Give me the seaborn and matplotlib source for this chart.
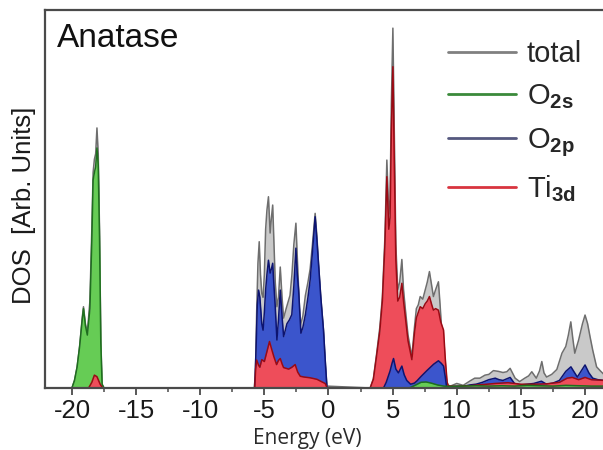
import numpy as np
import matplotlib
matplotlib.use("Agg")
import matplotlib.pyplot as plt
from matplotlib.lines import Line2D
from matplotlib.ticker import MultipleLocator
import seaborn as sns

# ---------------------------------------------------------------
# Projected density of states of anatase TiO2 (arbitrary units)
# ---------------------------------------------------------------
total_energy = [
    -22.1, -20.0, -19.8, -19.6, -19.4, -19.2, -19.1, -18.95, -18.8, -18.6,
    -18.45, -18.35, -18.25, -18.15, -18.05, -17.95, -17.85, -17.75, -17.65, -17.5,
    -5.8, -5.7, -5.6, -5.5, -5.4, -5.3, -5.2, -5.1, -5.0, -4.9,
    -4.8, -4.68, -4.55, -4.45, -4.35, -4.25, -4.15, -4.02, -3.9, -3.76,
    -3.62, -3.5, -3.3, -3.0, -2.85, -2.7, -2.54, -2.4, -2.2, -2.0,
    -1.8, -1.6, -1.43, -1.25, -1.04, -0.9, -0.78, -0.6, -0.39, -0.25, -0.12,
    3.25, 3.5, 3.75, 4.0, 4.2, 4.4, 4.55, 4.7, 4.8, 4.9,
    5.02, 5.12, 5.25, 5.4, 5.55, 5.72, 5.85, 6.0, 6.2, 6.5,
    6.7, 6.85, 7.0, 7.15, 7.35, 7.54, 7.7, 7.87, 8.05, 8.18,
    8.35, 8.57, 8.7, 8.85, 9.0, 9.15, 9.3,
    9.5, 10.0, 10.5, 11.0, 11.4, 11.8, 12.2, 12.5, 12.86, 13.25,
    13.6, 13.9, 14.16, 14.55, 14.9, 15.3, 15.6, 15.85, 16.2, 16.45,
    16.63, 16.8, 17.0, 17.4, 17.8, 18.2, 18.5, 18.7, 18.89, 19.05,
    19.2, 19.5, 19.8, 20.0, 20.2, 20.4, 20.6, 20.9, 21.2, 21.5,
]
total_dos = [
    0, 0, 2, 5.5, 11, 18.5, 21.5, 17, 14.5, 23,
    42, 57, 60.5, 62, 68.8, 62, 42, 13, 1, 0,
    0, 3, 20, 33, 38.7, 30, 25, 24, 30, 42,
    47, 50.6, 41, 45, 48.4, 38, 28, 21.5, 24, 32,
    24, 18.5, 21, 24.5, 30, 38, 43.6, 32, 16.5, 19,
    24.5, 28, 31.5, 38, 46.2, 40, 33, 24, 15.3, 7, 0.5,
    0, 2.5, 9, 16, 24, 40, 60.3, 46, 50, 75,
    95.2, 70, 38, 26, 28, 34, 26, 20.6, 14, 8.3,
    16, 21, 22, 24.2, 23.5, 26, 28, 30.8, 27, 24.2,
    26, 28.1, 22, 14, 8, 3, 0.8,
    0.5, 1.2, 0.7, 1.8, 2.6, 2.6, 3.4, 3.6, 4.6, 4.4,
    4.1, 4.3, 5.2, 2.6, 1.7, 2.6, 3.2, 4.3, 2.6, 4.5,
    7.0, 4.0, 2.9, 3.6, 4.9, 9.2, 11, 14, 17.5, 13,
    9.2, 12.7, 17, 19.3, 17, 13.4, 10, 5.6, 4.5, 3.5,
]

o2s_energy = [
    -22.1, -20.0, -19.8, -19.6, -19.4, -19.2, -19.1, -18.95, -18.8, -18.6,
    -18.45, -18.35, -18.25, -18.15, -18.05, -17.95, -17.85, -17.75, -17.65, -17.5,
    6.3, 6.8, 7.2, 7.6, 8.0, 8.5, 9.0, 9.5, 10.5, 11.5,
    12.5, 13.5, 14.5, 15.5, 16.5, 17.5, 18.5, 19.5, 20.5, 21.5,
]
o2s_dos = [
    0, 0, 2, 5.5, 11, 18, 21, 16.5, 14, 21,
    39, 55, 57, 58.5, 63.5, 59, 40, 12, 1, 0,
    0, 0.8, 1.5, 1.6, 1.3, 0.8, 0.5, 0.4, 0.5, 0.6,
    0.5, 0.6, 0.5, 0.7, 0.6, 0.5, 0.7, 0.6, 0.5, 0.5,
]

o2p_energy = [
    -22.1,
    -5.75, -5.65, -5.55, -5.45, -5.35, -5.2, -5.1, -5.0, -4.9, -4.8,
    -4.68, -4.55, -4.45, -4.35, -4.25, -4.15, -4.02, -3.9, -3.76, -3.62,
    -3.5, -3.35, -3.24, -3.05, -2.86, -2.7, -2.54, -2.43, -2.33, -2.15,
    -2.0, -1.8, -1.6, -1.43, -1.25, -1.04, -0.9, -0.78, -0.6, -0.39,
    -0.25, -0.12,
    4.29, 4.5, 4.8, 4.95, 5.07, 5.25, 5.45, 5.6, 5.72, 5.9,
    6.1, 6.4, 6.7, 6.9, 7.2, 7.67, 8.2, 8.57, 8.8, 8.97,
    9.1, 9.2, 9.3,
    10.0, 10.5, 11.0, 11.5, 12.0, 12.5, 13.0, 13.3, 13.6, 14.16,
    14.5, 15.0, 15.5, 16.0, 16.6, 17.0, 17.5, 18.0, 18.5, 18.9,
    19.1, 19.4, 19.7, 20.0, 20.3, 20.6, 21.0, 21.5,
]
o2p_dos = [
    0,
    0, 10, 22, 25.9, 24, 17, 15.3, 20, 25.9, 30,
    33.8, 30.4, 31.5, 33, 27, 21.5, 12.7, 18, 25.9, 19,
    13.6, 15.5, 17, 18, 19.4, 27, 37, 30, 25.9, 14.5,
    16, 19.4, 24, 28.6, 36, 45.3, 39, 33, 24, 15.3,
    7, 0,
    0, 1.5, 4.5, 6.5, 7.8, 5, 4, 5, 5.8, 3.5,
    2, 1.0, 1.3, 1.9, 3, 4.6, 6.3, 7.2, 6.5, 5.8,
    3, 0.5, 0.3,
    0.4, 0.4, 0.8, 1.0, 1.5, 2.2, 2.6, 2.2, 2.0, 2.8,
    1.2, 0.8, 1.0, 1.2, 1.8, 1.0, 1.3, 2.0, 4.4, 5.6,
    4.5, 2.9, 4.5, 6.1, 4.0, 2.6, 2.2, 2.0,
]

ti3d_energy = [
    -22.1, -18.7, -18.45, -18.25, -18.05, -17.8, -17.6,
    -5.75, -5.68, -5.6, -5.45, -5.35, -5.2, -5.0, -4.75, -4.6, -4.45,
    -4.26, -4.05, -3.9, -3.76, -3.6, -3.5, -3.3, -3.11, -2.85, -2.6,
    -2.4, -2.2, -1.9, -1.43, -0.9, -0.5, -0.26, -0.1,
    3.25, 3.5, 3.75, 4.0, 4.2, 4.4, 4.55, 4.7, 4.8, 4.9,
    5.02, 5.12, 5.25, 5.4, 5.55, 5.72, 5.85, 6.0, 6.2, 6.5,
    6.7, 6.85, 7.0, 7.15, 7.35, 7.54, 7.7, 7.87, 8.05, 8.18,
    8.35, 8.57, 8.75, 8.97, 9.1, 9.25, 9.35,
    10.0, 11.0, 12.0, 13.0, 14.0, 15.0, 16.0, 17.0, 18.0, 18.6,
    19.0, 19.5, 20.0, 20.5, 21.5,
]
ti3d_dos = [
    0, 0, 1.5, 3.4, 3.0, 1.0, 0,
    0, 5, 7.4, 6, 5.5, 7.5, 7, 10.3, 12.3, 10.5,
    8.3, 6.2, 7.3, 7.8, 6.2, 5.4, 5.2, 5, 5.5, 6.2,
    4.2, 3.1, 2.9, 2.7, 2.3, 1.6, 1.2, 0,
    0, 2.3, 8.5, 15, 23, 38, 55.9, 42, 45, 68,
    85, 62, 34, 23, 24, 27.7, 23, 18.5, 12.5, 7.5,
    14.5, 18.5, 20, 21.5, 21, 22.3, 23, 24.2, 22, 20.6,
    21, 20.6, 17.5, 15.3, 8, 1.5, 0.5,
    0.4, 0.6, 0.9, 1.2, 1.4, 1.0, 1.0, 1.1, 1.5, 2.6,
    2.8, 2.2, 2.8, 2.2, 2.0,
]

series_labels = ["total", r"O$_{\mathbf{2s}}$", r"O$_{\mathbf{2p}}$", r"Ti$_{\mathbf{3d}}$"]
x_ticks = [-20, -15, -10, -5, 0, 5, 10, 15, 20]

# ---------------------------------------------------------------
sns.set_theme(style="ticks")
plt.rcParams["font.family"] = ["Liberation Sans", "DejaVu Sans"]
plt.rcParams["mathtext.fontset"] = "custom"
plt.rcParams["mathtext.rm"] = "Liberation Sans"
plt.rcParams["mathtext.bf"] = "Liberation Sans:bold"

fill_colors = {"total": "#c9c9c9", "o2s": "#66cc55", "o2p": "#3b55cc", "ti": "#ee4d5a"}
edge_colors = {"total": "#6e6e6e", "o2s": "#1e6e1e", "o2p": "#0d1470", "ti": "#9a0a14"}
legend_colors = ["#808080", "#3a8a3a", "#55587f", "#d8343f"]

fig = plt.figure(figsize=(6.03, 4.5), dpi=100)
ax = fig.add_axes([45 / 603, 62 / 450, 558 / 603, 378 / 450])


def draw_band(energy, dos, key, z, lo=None, hi=None):
    e = np.asarray(energy, dtype=float)
    d = np.asarray(dos, dtype=float)
    if lo is not None:
        keep = (e >= lo) & (e <= hi)
        e, d = e[keep], d[keep]
    ax.fill_between(e, d, 0, color=fill_colors[key], lw=0, zorder=z)
    sns.lineplot(x=e, y=d, color=edge_colors[key], lw=1.1, ax=ax,
                 estimator=None, sort=False, legend=False, zorder=z + 0.1)


draw_band(total_energy, total_dos, "total", 1)
draw_band(o2s_energy, o2s_dos, "o2s", 2)
draw_band(o2p_energy, o2p_dos, "o2p", 3)
draw_band(ti3d_energy, ti3d_dos, "ti", 4)
# conduction band: the smaller O 2p share sits in front of Ti 3d
draw_band(o2p_energy, o2p_dos, "o2p", 5, lo=4.0, hi=9.5)
draw_band(o2s_energy, o2s_dos, "o2s", 6, lo=6.0, hi=22.0)

ax.set_xlim(-22.1, 21.4)
ax.set_ylim(0, 100)
ax.set_yticks([])
ax.set_xticks(x_ticks)
ax.set_xticklabels([str(t) for t in x_ticks])
ax.xaxis.set_minor_locator(MultipleLocator(2.5))
ax.tick_params(axis="x", which="major", direction="out", length=5, width=1.3,
               color="#4a4a4a", labelsize=18.5, labelcolor="#1a1a1a", pad=3)
ax.tick_params(axis="x", which="minor", direction="out", length=3, width=1.1,
               color="#4a4a4a")

ax.spines["right"].set_visible(False)
for side in ("top", "left", "bottom"):
    ax.spines[side].set_color("#4a4a4a")
    ax.spines[side].set_linewidth(1.6)
    ax.spines[side].set_zorder(10)

ax.set_xlabel("Energy (eV)", fontsize=15, color="#2a2a2a",
              family=["Open Sans", "DejaVu Sans"])
ax.xaxis.set_label_coords(0.47, -0.105)
ax.set_ylabel("DOS  [Arb. Units]", fontsize=18.5, color="#1a1a1a")
ax.yaxis.set_label_coords(-0.017, 0.484)

ax.text(0.0215, 0.902, "Anatase", transform=ax.transAxes, fontsize=24,
        ha="left", va="baseline", color="#111111")

handles = [Line2D([], [], color=c, lw=2.0) for c in legend_colors]
ax.legend(handles, series_labels, loc="upper left", bbox_to_anchor=(0.722, 0.921),
          frameon=False, fontsize=21, handlelength=2.35, handletextpad=0.35,
          labelspacing=0.5, borderpad=0, borderaxespad=0)

fig.savefig("out.png", dpi=100)
